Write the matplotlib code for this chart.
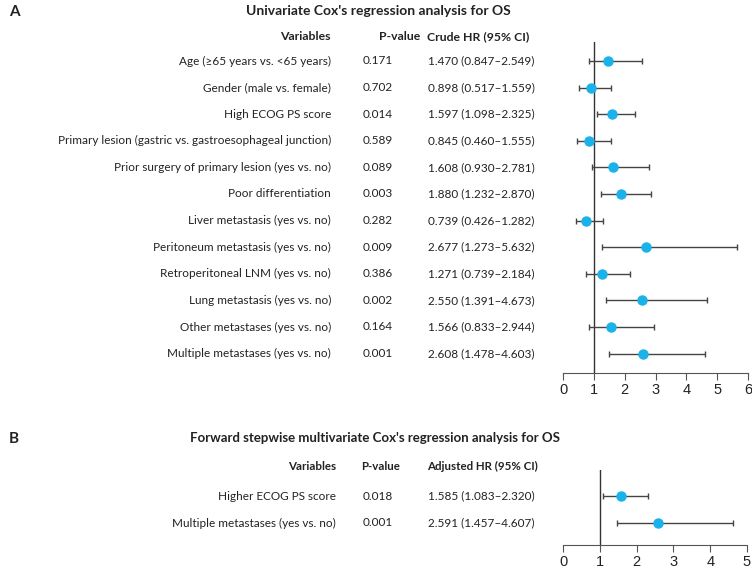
import matplotlib
matplotlib.use("Agg")
import matplotlib.pyplot as plt
from matplotlib.transforms import blended_transform_factory

plt.rcParams['font.family'] = ['Lato', 'DejaVu Sans']

# panel A data
vars_a = ["Age (\u226565 years vs. <65 years)", "Gender (male vs. female)", "High ECOG PS score",
          "Primary lesion (gastric vs. gastroesophageal junction)",
          "Prior surgery of primary lesion (yes vs. no)", "Poor differentiation",
          "Liver metastasis (yes vs. no)", "Peritoneum metastasis (yes vs. no)",
          "Retroperitoneal LNM (yes vs. no)", "Lung metastasis (yes vs. no)",
          "Other metastases (yes vs. no)", "Multiple metastases (yes vs. no)"]
p_a = ["0.171", "0.702", "0.014", "0.589", "0.089", "0.003", "0.282", "0.009", "0.386", "0.002", "0.164", "0.001"]
hr_a = [1.470, 0.898, 1.597, 0.845, 1.608, 1.880, 0.739, 2.677, 1.271, 2.550, 1.566, 2.608]
lo_a = [0.847, 0.517, 1.098, 0.460, 0.930, 1.232, 0.426, 1.273, 0.739, 1.391, 0.833, 1.478]
hi_a = [2.549, 1.559, 2.325, 1.555, 2.781, 2.870, 1.282, 5.632, 2.184, 4.673, 2.944, 4.603]

# panel B data
vars_b = ["Higher ECOG PS score", "Multiple metastases (yes vs. no)"]
p_b = ["0.018", "0.001"]
hr_b = [1.585, 2.591]
lo_b = [1.083, 1.457]
hi_b = [2.320, 4.607]

W, H = 752, 568
fig = plt.figure(figsize=(W / 100, H / 100), dpi=100)
dot = '#1AB2EA'
txt = '#222222'


def fx(px):
    return px / W


def make_axes(left, right, top, bottom):
    return fig.add_axes([fx(left), 1 - bottom / H, fx(right - left), (bottom - top) / H])


def forest(ax, names, pvals, hr, lo, hi, xmax, row0, step, top, bottom, name_x,
           hr_head, head_y, head_x, head_fs):
    n = len(names)
    ys = list(range(n))
    # map pixel rows -> data rows
    ax.set_ylim((bottom - row0) / step, (top - row0) / step)
    ax.set_xlim(0, xmax)
    ax.errorbar(hr, ys, xerr=[[h - l for h, l in zip(hr, lo)], [u - h for h, u in zip(hr, hi)]],
                fmt='none', ecolor='#444444', elinewidth=1, capsize=2.5, capthick=1, zorder=2)
    ax.plot(hr, ys, 'o', color=dot, ms=6.5, zorder=3)
    ax.axvline(1, color='#333333', lw=1, zorder=1)
    for s in ['top', 'right', 'left']:
        ax.spines[s].set_visible(False)
    ax.spines['bottom'].set_color('#555555')
    ax.set_yticks([])
    ax.set_xticks(range(xmax + 1))
    ax.tick_params(axis='x', length=5, color='#555555', labelsize=10.5, labelcolor=txt, pad=2)
    for lab in ax.get_xticklabels():
        lab.set_family(['Liberation Sans', 'DejaVu Sans'])
    tr = blended_transform_factory(fig.transFigure, ax.transData)
    hy = (head_y - row0) / step
    ax.text(fx(name_x), hy, "Variables", transform=tr, ha='right', va='center', fontsize=head_fs,
            fontweight='bold', color=txt, clip_on=False)
    ax.text(fx(head_x[0]), hy, "P-value", transform=tr, ha='center', va='center', fontsize=head_fs,
            fontweight='bold', color=txt, clip_on=False)
    ax.text(fx(head_x[1]), hy, hr_head, transform=tr, ha='center', va='center', fontsize=head_fs,
            fontweight='bold', color=txt, clip_on=False)
    for i in range(n):
        ax.text(fx(name_x), i, names[i], transform=tr, ha='right', va='center', fontsize=8.5,
                color=txt, clip_on=False)
        ax.text(fx(363), i, pvals[i], transform=tr, ha='left', va='center', fontsize=8.5,
                color=txt, clip_on=False)
        ax.text(fx(428), i, "%.3f (%.3f\u2013%.3f)" % (hr[i], lo[i], hi[i]), transform=tr,
                ha='left', va='center', fontsize=8.5, color=txt, clip_on=False)


ax_a = make_axes(563, 748, 42, 373)
forest(ax_a, vars_a, p_a, hr_a, lo_a, hi_a, 6, 61, 26.6, 42, 373, 331,
       "Crude HR (95% CI)", 37, (400, 478), 8.8)
ax_b = make_axes(563, 747, 470, 545)
forest(ax_b, vars_b, p_b, hr_b, lo_b, hi_b, 5, 496, 27, 470, 545, 336,
       "Adjusted HR (95% CI)", 466, (381, 482), 8.3)

fig.text(fx(9), 1 - 12 / H, "A", fontsize=11, fontweight='bold', color=txt, va='center')
fig.text(fx(378), 1 - 11 / H, "Univariate Cox's regression analysis for OS", fontsize=10,
         fontweight='bold', color=txt, ha='center', va='center')
fig.text(fx(9), 1 - 439 / H, "B", fontsize=11, fontweight='bold', color=txt, va='center')
fig.text(fx(375), 1 - 438 / H, "Forward stepwise multivariate Cox's regression analysis for OS",
         fontsize=9.5, fontweight='bold', color=txt, ha='center', va='center')

fig.savefig("out.png", dpi=100)
